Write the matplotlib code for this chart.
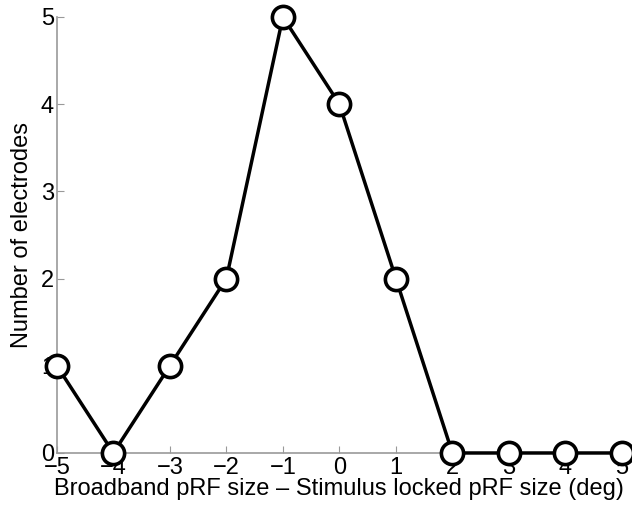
import matplotlib.pyplot as plt

plt.rcParams['font.family'] = ['Liberation Sans', 'DejaVu Sans']

# size difference (deg) and electrode counts
size_diff = [-5, -4, -3, -2, -1, 0, 1, 2, 3, 4, 5]
n_electrodes = [1, 0, 1, 2, 5, 4, 2, 0, 0, 0, 0]
x_ticks = [-5, -4, -3, -2, -1, 0, 1, 2, 3, 4, 5]
y_ticks = [0, 1, 2, 3, 4, 5]

fig = plt.figure(figsize=[6.32, 5.13], dpi=100)
ax = fig.add_axes([0.090, 0.117, 0.894, 0.850])

ax.plot(size_diff, n_electrodes, color='black', linewidth=2.5,
        marker='o', markersize=16, markerfacecolor='white',
        markeredgecolor='black', markeredgewidth=2.6, clip_on=False, zorder=5)

ax.set_xlim([-5, 5])
ax.set_ylim([0, 5])
ax.set_xticks(x_ticks)
ax.set_yticks(y_ticks)
ax.set_xticklabels(['\u2212%d' % -v if v < 0 else '%d' % v for v in x_ticks])

for side in ['top', 'right']:
    ax.spines[side].set_visible(False)
for side in ['left', 'bottom']:
    ax.spines[side].set_color('#999999')
    ax.spines[side].set_linewidth(1.2)

ax.tick_params(direction='in', length=5, color='#999999', labelsize=17)
ax.tick_params(axis='x', pad=3)
ax.tick_params(axis='y', pad=2)

ax.set_xlabel('Broadband pRF size \u2013 Stimulus locked pRF size (deg)', fontsize=17, labelpad=-1)
ax.set_ylabel('Number of electrodes', fontsize=17, labelpad=6)

plt.savefig('out.png', dpi=100)
plt.close(fig)
